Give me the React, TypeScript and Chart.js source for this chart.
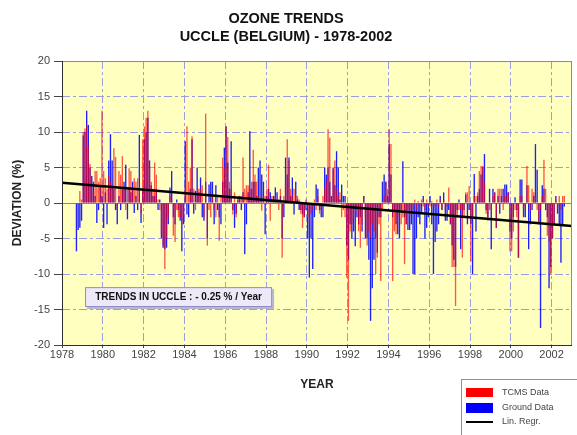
import { useEffect, useRef } from 'react';
import { Chart, registerables } from 'chart.js';

Chart.register(...registerables);

const FONT = '"Liberation Sans", Arial, Helvetica, sans-serif';

// first month of the series arrays = January of START_YEAR
const START_YEAR = 1978;

// x-axis tick years and y-axis ticks
const YEAR_TICKS = [1978, 1980, 1982, 1984, 1986, 1988, 1990, 1992, 1994, 1996, 1998, 2000, 2002];
const Y_TICKS = [-20, -15, -10, -5, 0, 5, 10, 15, 20];
const X_RANGE = [1978, 2003];
const Y_RANGE = [-20, 20];

// TCMS data: monthly ozone deviation (%), Jan..Dec each row
const TCMS_DATA: (number | null)[] = [
  /*1978*/ null, null, null, null, null, null, null, null, null, null, 1.7, 0.5,
  /*1979*/ 10, 10.5, 11, 8, 5.5, 2, 1.5, 4.5, 4.5, 3, 3.5, 13,
  /*1980*/ 4.5, 3.5, 2, 3.8, 3, 2.5, 7.7, 6.5, -1, 4.5, 4, 6.6,
  /*1981*/ 2, -1, 2, 4.9, 4.5, 2, 3.5, 3, 3.5, 2, -1.5, 9,
  /*1982*/ 10.8, 12, 13, 5, 3, 2, 5.7, 4, 0.5, -1, -4.4, -6,
  /*1983*/ -9.3, -5, -2, 1, 0.5, -4.6, -5.5, -1, -2, -2, -3, -2,
  /*1984*/ 2, 10.8, 3, 5, 9.4, 2, -1, 1, 2, 2, 2.5, -2,
  /*1985*/ 12.6, -6, -1, -2, 1, -1, -2, 1, -5.3, 1, 6.4, 5,
  /*1986*/ 10.8, 9.3, 3, 2, -1.6, 1.5, -2, 1, 0.5, 1, 6.4, 2,
  /*1987*/ 2.5, 2.5, 2, 3, 7.5, 4, 3, 1, 0.5, -1.1, 1, 1,
  /*1988*/ 2, 5.4, -2.5, 1, 0.5, 1, 0.5, -1, 2, -7.7, 1, 3,
  /*1989*/ 9, 6, 2, 1, 2, 1, 1, 0.5, -1.5, -3.5, -2, 0.5,
  /*1990*/ -2, -3, -1.5, -1, 0.5, -1, 1, -1.5, -1, 1, 2, 3,
  /*1991*/ 10.4, 9.2, 1, 4.7, 6, 2, 1, 1.5, -2, -1, -2, -10.5,
  /*1992*/ -16.6, -4, -3, -2, -1, -1, -4, -6.3, -3, 1, -2, -6,
  /*1993*/ -4, -5, -3, -4, -10, -7.7, -3, -11, -1, 1, 3, 2,
  /*1994*/ 10.4, 8.3, -11, -4, -4.4, -2, -1, -3, -2, -8.6, -3, -1,
  /*1995*/ -2, -1, -1, 0.5, -1, 0.3, -0.5, 0.5, -0.5, -1, 0.5, -0.5,
  /*1996*/ -0.5, 0.3, -0.5, -0.5, 0.5, -0.5, 0.5, -1, 0.5, -1, -0.5, 2.2,
  /*1997*/ -3, -9, -9, -14.5, -2, -1, -1, -7.7, -2, 1.5, 1.5, 2.4,
  /*1998*/ -8.2, -2, 1, 1, 1.5, 4.5, 5.2, 5.2, 3, -1.5, -2.5, -1,
  /*1999*/ -1, 1, 1.5, -3.5, 2, 2, 2, -1, 1, 1, 1.5, -6.8,
  /*2000*/ -6.8, -4, -1, -2, -7.7, 1, 1, -1, -0.5, 5.2, 2.5, -1,
  /*2001*/ 2, 1.5, 1, -1, -3, -1, 1, 6.1, 2, -4.6, -5.5, -10,
  /*2002*/ -5, -3, 0.5, -1, 1, -1, 1, 1, null, null, null, null,
];

// Ground data: monthly ozone deviation (%), Jan..Dec each row
const GROUND_DATA: (number | null)[] = [
  /*1978*/ null, null, null, null, null, null, null, null, -6.8, -3.8, -3.5, -2.5,
  /*1979*/ 9.5, 10, 13, 11, 5, 3.8, 3, 1, -2.8, -1, 2.5, 1,
  /*1980*/ -3.5, 1.5, -3, 6, 9.7, 6, 2, -1, -3, 1, -1, 2,
  /*1981*/ 3, 5.4, -2.3, 2, 1.5, 3, -1.4, 1, -1, 9.6, -2.8, 2,
  /*1982*/ 9, 10, 12, 6, 2.5, 1, 1, 2, -1, 0.5, -5, -6.3,
  /*1983*/ -6.5, -6.3, -3, 2.2, 4.5, -2, -3, 0.5, -1, -2.5, -6.8, -3,
  /*1984*/ 8.7, -1.6, -2, 2, 9, -1.5, 1.7, 5, 1.5, 3.6, -2, -2.5,
  /*1985*/ 3, -5, 2.6, 3, 3, -3, 2.5, -1, -2, -3, 3, 7.8,
  /*1986*/ 10.8, 5.7, 2, 8.7, -1, -3.5, -1.5, 0.5, 1, -1, 1.5, -7.2,
  /*1987*/ -3, 1.5, 10.1, 2, 3, 3, 1, 5, 6, 4, 3, -4.4,
  /*1988*/ 1, 2, 1.5, 0.5, 1, 2.2, 1.5, 0.5, 1, -5, -2, 6.4,
  /*1989*/ 4, 6.4, 1, 3.6, -1.6, 3, 0.5, -1, -1, -1.6, -2, -1,
  /*1990*/ -5, -10.5, -5, -9.3, -2, 2.6, 2, -1, -2, -2, 5, 4,
  /*1991*/ 5, 3, 1, 5, 2.5, 7.3, 5, 0.5, 2.6, 1, 1, -6,
  /*1992*/ -8, -3, -5, -4, -6.1, -2, -3, -2, -4, 1, -5, -5,
  /*1993*/ -8, -16.6, -12, -8, -5, -7, -2, -2, 3, 4, 3, 1,
  /*1994*/ 8.3, 4, -2, -1, -3, -4.4, -5, -1, 5.9, -2, -3, -3.8,
  /*1995*/ -3.8, -3, -10, -10, -5, -2, -3, -1.5, 1, -5, -3.5, -2,
  /*1996*/ 1, -3, -10, -5.5, -4, -3, 1, -1, 1.5, -2.5, -2.5, -1,
  /*1997*/ -3, -6, -8, -9, -1, 0.5, -6.5, -2, -1, 1.2, -3, -1,
  /*1998*/ -3, -10, 4.1, -4, 1, 2, 4, 5, 6.9, -1, -2, 2,
  /*1999*/ -6.5, 2, 1.5, -3.5, 1, -1.5, 1, 2, 2.6, 2.6, 1.5, -4,
  /*2000*/ -5, -2, 0.8, -1, -7.7, 3.3, 3.3, -2, -2, 2.5, -6.5, -3,
  /*2001*/ -1, 1, 8.3, 4.7, -3, -17.6, 2.5, 2, -1, -2, -12, -9,
  /*2002*/ -5, -3, 1, -1.5, -3, -8.4, -3, -0.5, null, null, null, null,
];

// linear regression line end points
const TREND_X = [1978, 2003];
const TREND_Y = [2.85, -3.25];

// annotation box (data coordinates) and its text
const NOTE_X = [1979.13, 1988.3];
const NOTE_Y = [-11.85, -14.65];
const NOTE_TEXT = 'TRENDS IN UCCLE : - 0.25 % / Year';

const TITLE_LINES = ['OZONE TRENDS', 'UCCLE (BELGIUM) - 1978-2002'];
const LEGEND_LABELS = ['TCMS Data', 'Ground Data', 'Lin. Regr.'];

const RED = 'rgba(255,0,0,0.66)';
const BLUE = 'rgba(0,0,255,0.88)';
const GRID = '#9c9ce2';
const PLOT_BG = '#ffffc0';

const decorPlugin = {
  id: 'decor',
  beforeDraw(chart: any) {
    const { ctx, chartArea: a } = chart;
    ctx.save();
    ctx.fillStyle = PLOT_BG;
    ctx.fillRect(a.left, a.top, a.right - a.left, a.bottom - a.top);
    ctx.restore();
  },
  afterDraw(chart: any) {
    const { ctx, chartArea: a, scales } = chart;
    ctx.save();
    // frame
    ctx.lineWidth = 1;
    ctx.strokeStyle = '#8c8c8c';
    ctx.strokeRect(a.left + 0.5, a.top + 0.5, a.right - a.left - 1, a.bottom - a.top);
    ctx.strokeStyle = '#303030';
    ctx.beginPath();
    ctx.moveTo(a.left + 0.5, a.top);
    ctx.lineTo(a.left + 0.5, a.bottom + 0.5);
    ctx.lineTo(a.right, a.bottom + 0.5);
    ctx.stroke();

    // annotation box
    const x0 = scales.x.getPixelForValue(NOTE_X[0]);
    const x1 = scales.x.getPixelForValue(NOTE_X[1]);
    const y0 = scales.y.getPixelForValue(NOTE_Y[0]);
    const y1 = scales.y.getPixelForValue(NOTE_Y[1]);
    ctx.fillStyle = '#b8b8c8';
    ctx.fillRect(x0 + 2, y0 + 2, x1 - x0, y1 - y0);
    ctx.fillStyle = '#efe8f8';
    ctx.fillRect(x0, y0, x1 - x0, y1 - y0);
    ctx.strokeStyle = '#8c8cc8';
    ctx.strokeRect(x0 + 0.5, y0 + 0.5, x1 - x0 - 1, y1 - y0 - 1);
    ctx.fillStyle = '#111';
    ctx.font = `bold 10px ${FONT}`;
    ctx.textAlign = 'center';
    ctx.textBaseline = 'middle';
    ctx.fillText(NOTE_TEXT, (x0 + x1) / 2, (y0 + y1) / 2 + 0.5);

    // legend box
    const lx = 461, ly = 379;
    ctx.fillStyle = '#ffffff';
    ctx.fillRect(lx, ly, 130, 70);
    ctx.strokeStyle = '#909090';
    ctx.strokeRect(lx + 0.5, ly + 0.5, 130, 70);
    ctx.fillStyle = '#ff0000';
    ctx.fillRect(lx + 5, ly + 9, 27, 9);
    ctx.fillStyle = '#0000ff';
    ctx.fillRect(lx + 5, ly + 24, 27, 10);
    ctx.strokeStyle = '#000';
    ctx.lineWidth = 2;
    ctx.beginPath();
    ctx.moveTo(lx + 5, ly + 43);
    ctx.lineTo(lx + 32, ly + 43);
    ctx.stroke();
    ctx.fillStyle = '#444';
    ctx.font = `9px ${FONT}`;
    ctx.textAlign = 'left';
    ctx.fillText(LEGEND_LABELS[0], lx + 41, ly + 14);
    ctx.fillText(LEGEND_LABELS[1], lx + 41, ly + 29);
    ctx.fillText(LEGEND_LABELS[2], lx + 41, ly + 43);
    ctx.restore();
  },
};

export default function App() {
  const ref = useRef<HTMLCanvasElement>(null);

  useEffect(() => {
    const toPoints = (vals: (number | null)[]) =>
      vals.map((v, i) => ({ x: START_YEAR + (i + 0.5) / 12, y: v }));

    const chart = new Chart(ref.current as HTMLCanvasElement, {
      type: 'bar',
      data: {
        datasets: [
          {
            type: 'line',
            label: LEGEND_LABELS[2],
            data: TREND_X.map((x, i) => ({ x, y: TREND_Y[i] })),
            borderColor: '#000',
            borderWidth: 2.5,
            pointRadius: 0,
            order: 0,
          } as any,
          {
            label: LEGEND_LABELS[0],
            data: toPoints(TCMS_DATA),
            backgroundColor: RED,
            borderWidth: 0,
            grouped: false,
            barPercentage: 0.8,
            categoryPercentage: 1,
            order: 1,
          } as any,
          {
            label: LEGEND_LABELS[1],
            data: toPoints(GROUND_DATA),
            backgroundColor: BLUE,
            borderWidth: 0,
            grouped: false,
            barPercentage: 0.8,
            categoryPercentage: 1,
            order: 2,
          } as any,
        ],
      },
      options: {
        animation: false,
        responsive: true,
        maintainAspectRatio: false,
        layout: { padding: { left: 0, right: 5, top: 0, bottom: 43 } },
        plugins: {
          legend: { display: false },
          tooltip: { enabled: false },
          title: {
            display: true,
            text: TITLE_LINES,
            color: '#111',
            font: { family: FONT, size: 14.5, weight: 'bold', lineHeight: 1.26 },
            padding: { top: 10, bottom: 14.5 },
          },
        },
        scales: {
          x: {
            type: 'linear',
            min: X_RANGE[0],
            max: X_RANGE[1],
            offset: false,
            afterBuildTicks: (s: any) => {
              s.ticks = YEAR_TICKS.map((v) => ({ value: v }));
            },
            afterFit: (s: any) => {
              s.height = 47;
            },
            ticks: {
              color: '#444',
              font: { family: FONT, size: 11 },
              padding: 0,
              maxRotation: 0,
              autoSkip: false,
              callback: (v: any) => String(v),
            },
            grid: {
              offset: false,
              color: GRID,
              lineWidth: 1,
              tickLength: 3,
              tickColor: '#444',
            },
            border: { display: false, dash: [8, 3, 3, 3] },
            title: {
              display: true,
              text: 'YEAR',
              color: '#222',
              font: { family: FONT, size: 12, weight: 'bold', lineHeight: 1.2 },
              padding: { top: 0, bottom: 0 },
            },
          },
          y: {
            type: 'linear',
            min: Y_RANGE[0],
            max: Y_RANGE[1],
            afterBuildTicks: (s: any) => {
              s.ticks = Y_TICKS.map((v) => ({ value: v }));
            },
            afterFit: (s: any) => {
              s.width = 62;
            },
            ticks: {
              color: '#444',
              font: { family: FONT, size: 11 },
              padding: 4,
              callback: (v: any) => String(v),
            },
            grid: {
              color: (c: any) => (c.tick && c.tick.value === 0 ? '#8a8a8a' : GRID),
              lineWidth: 1,
              tickLength: 8,
              tickColor: '#444',
            },
            border: {
              display: false,
              dash: (c: any) => (c.tick && c.tick.value === 0 ? [] : [8, 3, 3, 3]),
            },
            title: {
              display: true,
              text: 'DEVIATION (%)',
              color: '#222',
              font: { family: FONT, size: 12, weight: 'bold', lineHeight: 1.2 },
              padding: { top: 10.3, bottom: 0 },
            },
          },
        },
      } as any,
      plugins: [decorPlugin],
    });
    return () => chart.destroy();
  }, []);

  return (
    <div style={{ position: 'absolute', left: 0, top: 0, width: 577, height: 435, background: '#ffffff' }}>
      <canvas ref={ref} />
    </div>
  );
}
